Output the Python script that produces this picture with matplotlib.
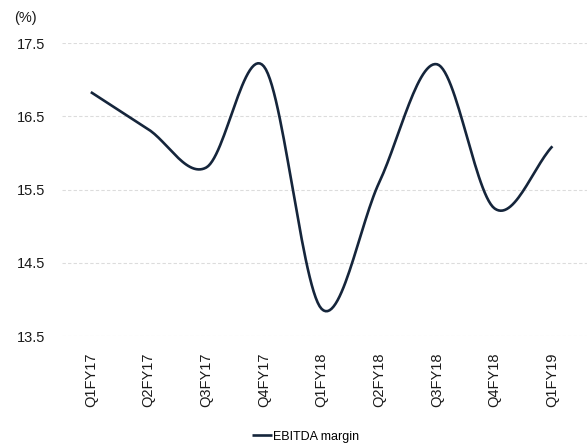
import numpy as np
import matplotlib.pyplot as plt

plt.rcParams['font.family'] = ['Liberation Sans', 'DejaVu Sans']

quarters = ['Q1FY17', 'Q2FY17', 'Q3FY17', 'Q4FY17', 'Q1FY18',
            'Q2FY18', 'Q3FY18', 'Q4FY18', 'Q1FY19']
ebitda_margin = [16.83, 16.32, 15.80, 17.18, 13.87, 15.60, 17.21, 15.24, 16.09]
y_ticks = [13.5, 14.5, 15.5, 16.5, 17.5]

LINE_COLOR = '#15253b'


def suavizar(xs, ys, pasos=30):
    """Curva suave tipo Catmull-Rom entre los puntos (como la linea suavizada de Excel)."""
    xs = np.asarray(xs, dtype=float)
    ys = np.asarray(ys, dtype=float)
    # puntos fantasma en los extremos: extrapolacion lineal
    px = np.concatenate([[2 * xs[0] - xs[1]], xs, [2 * xs[-1] - xs[-2]]])
    py = np.concatenate([[2 * ys[0] - ys[1]], ys, [2 * ys[-1] - ys[-2]]])
    out_x, out_y = [], []
    t = np.linspace(0, 1, pasos)
    for i in range(1, len(px) - 2):
        for arr, out in ((px, out_x), (py, out_y)):
            p0, p1, p2, p3 = arr[i - 1], arr[i], arr[i + 1], arr[i + 2]
            m1 = (p2 - p0) / 2
            m2 = (p3 - p1) / 2
            h00 = 2 * t**3 - 3 * t**2 + 1
            h10 = t**3 - 2 * t**2 + t
            h01 = -2 * t**3 + 3 * t**2
            h11 = t**3 - t**2
            out.extend(h00 * p1 + h10 * m1 + h01 * p2 + h11 * m2)
    return np.array(out_x), np.array(out_y)


fig = plt.figure(figsize=(5.87, 4.48), dpi=100)
ax = fig.add_axes([0.1056, 0.25, 0.8944, 0.654])

x = np.arange(len(quarters))
sx, sy = suavizar(x, ebitda_margin)
ax.plot(sx, sy, color=LINE_COLOR, linewidth=1.9, solid_capstyle='butt',
        label='EBITDA margin')

ax.set_ylim(13.5, 17.5)
ax.set_yticks(y_ticks)
ax.set_yticklabels([f'{v:.1f}' for v in y_ticks])
ax.set_xlim(-0.5, 8.6)
ax.set_xticks(x)
ax.set_xticklabels(quarters, rotation=90)

ax.grid(axis='y', color='#dcdcdc', linestyle=(0, (3, 2)), linewidth=0.8)
ax.set_axisbelow(True)
for s in ax.spines.values():
    s.set_visible(False)
ax.tick_params(axis='both', length=0, labelsize=10.5, colors='#1a1a1a')
ax.tick_params(axis='x', pad=12)
ax.tick_params(axis='y', pad=12)

fig.text(0.024, 0.96, '(%)', fontsize=10.5, color='#1a1a1a', va='center')

leg = fig.legend(loc='center', bbox_to_anchor=(0.52, 0.025), frameon=False,
                 fontsize=9, handlelength=1.6, handletextpad=0.1)

fig.savefig('out.png', dpi=100)
